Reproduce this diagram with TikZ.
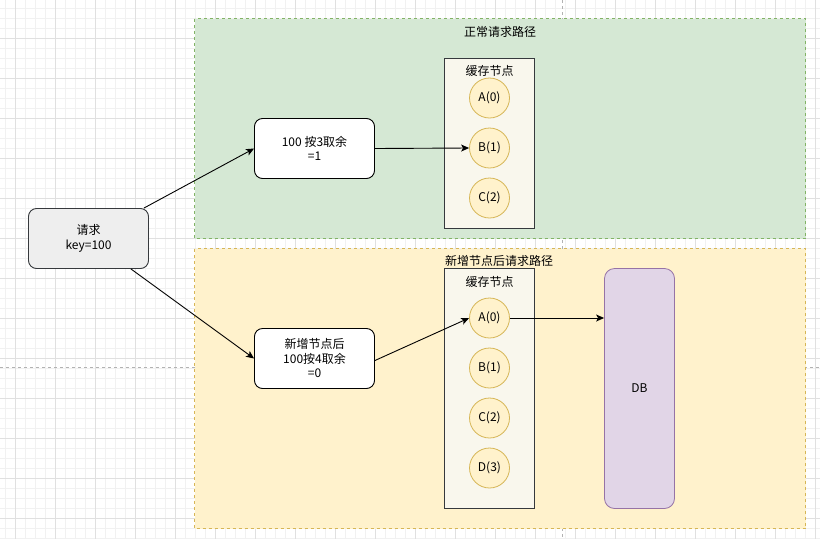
\documentclass[tikz,border=0pt]{standalone}
\usepackage{fontspec}
\setmainfont{Noto Sans CJK SC}
\usetikzlibrary{arrows.meta}
\definecolor{gfill}{HTML}{D5E8D4}
\definecolor{gline}{HTML}{82B366}
\definecolor{yfill}{HTML}{FFF2CC}
\definecolor{yline}{HTML}{D6B656}
\definecolor{cfill}{HTML}{F9F7ED}
\definecolor{dark}{HTML}{36393D}
\definecolor{pfill}{HTML}{E1D5E7}
\definecolor{pline}{HTML}{9673A6}
\definecolor{grey}{HTML}{EEEEEE}
\definecolor{gridminor}{HTML}{F1F1F1}
\definecolor{gridmajor}{HTML}{E0E0E0}
\tikzset{
  txt/.style={font=\fontsize{12}{14.5}\selectfont, align=center, inner sep=0pt},
  container/.style={draw, line width=0.9pt, dash pattern=on 3pt off 3pt},
  procbox/.style={draw=black, fill=white, rounded corners=8pt, line width=0.9pt},
  cachebox/.style={draw=dark, fill=cfill, line width=0.9pt},
  nodecirc/.style={circle, draw=yline, fill=yfill, line width=0.8pt, minimum size=40pt, inner sep=0pt, font=\fontsize{12}{14}\selectfont},
  conn/.style={draw=black, line width=0.9pt, -{Stealth[length=8pt,width=7pt,inset=2pt]}}
}
\begin{document}
\begin{tikzpicture}[x=1pt,y=-1pt]
\useasboundingbox (0,0) rectangle (820,539);
\fill[white] (0,0) rectangle (820,539);
% grid
\foreach \i in {5,15,...,815} \draw[gridminor, line width=0.6pt] (\i,0) -- (\i,539);
\foreach \j in {8,18,...,538} \draw[gridminor, line width=0.6pt] (0,\j) -- (820,\j);
\foreach \i in {15,55,...,815} \draw[gridmajor, line width=0.6pt] (\i,0) -- (\i,539);
\foreach \j in {38,78,...,538} \draw[gridmajor, line width=0.6pt] (0,\j) -- (820,\j);
% page breaks
\draw[gray!60, dashed, line width=0.6pt] (562,0) -- (562,539);
\draw[gray!60, dashed, line width=0.6pt] (0,367) -- (820,367);
% containers
\draw[container, draw=gline, fill=gfill] (194.5,18.5) rectangle (805.5,238.5);
\node[txt] (t1) at (500,32) {正常请求路径};
\draw[container, draw=yline, fill=yfill] (194.5,248.5) rectangle (805.5,528.5);
\node[txt] (t2) at (499,261) {新增节点后请求路径};
% cache boxes
\draw[cachebox] (444.5,58.5) rectangle (534.5,228.5);
\node[txt] (c1) at (489.5,71) {缓存节点};
\node[nodecirc] (a0) at (489.5,98) {A(0)};
\node[nodecirc] (b1) at (489.5,148) {B(1)};
\node[nodecirc] (c2) at (489.5,198) {C(2)};
\draw[cachebox] (444.5,268.5) rectangle (534.5,508.5);
\node[txt] (c2t) at (489.5,282) {缓存节点};
\node[nodecirc] (na0) at (489.5,318) {A(0)};
\node[nodecirc] (nb1) at (489.5,368) {B(1)};
\node[nodecirc] (nc2) at (489.5,418) {C(2)};
\node[nodecirc] (nd3) at (489.5,468) {D(3)};
% DB
\node[draw=pline, fill=pfill, rounded corners=10pt, line width=0.8pt, minimum width=70pt, minimum height=240pt, font=\fontsize{12}{14}\selectfont] (db) at (639.5,388.5) {DB};
% request
\node[procbox, draw=dark, fill=grey, minimum width=120pt, minimum height=60pt, txt] (req) at (88.5,238.5) {请求\\key=100};
\node[procbox, minimum width=120pt, minimum height=60pt, txt] (m3) at (314.5,148.5) {100 按3取余\\=1};
\node[procbox, minimum width=120pt, minimum height=60pt, txt] (m4) at (314.5,358.5) {新增节点后\\100按4取余\\=0};
% connectors
\draw[conn] (req.north east) ++(-5,0) coordinate (rs1) -- (m3.west);
\draw[conn] (req.south east) ++(-18,0) coordinate (rs2) -- (m4.west);
\draw[conn] (m3.east) -- (b1.west);
\draw[conn] ([yshift=-2pt]m4.east) -- (na0.west);
\draw[conn] (na0.east) -- (na0.east -| db.west);
\end{tikzpicture}
\end{document}
